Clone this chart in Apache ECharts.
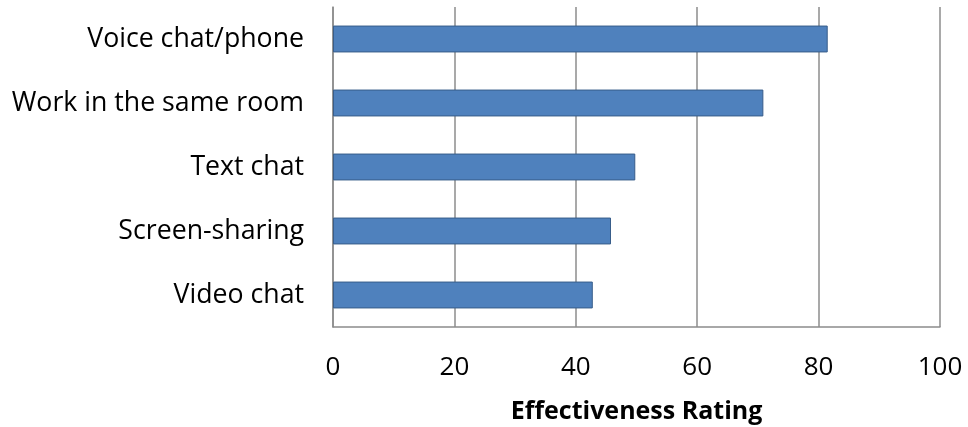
<!DOCTYPE html>
<html><head><meta charset="utf-8">
<script src="https://cdn.jsdelivr.net/npm/echarts@6/dist/echarts.min.js"></script>
<style>html,body{margin:0;padding:0;background:#fff}#c{width:968px;height:427px}</style>
</head><body><div id="c"></div>
<script>
const categories = ["Video chat", "Screen-sharing", "Text chat", "Work in the same room", "Voice chat/phone"];
const ratings = [42.8, 45.8, 49.8, 70.9, 81.5];
const xTicks = [0, 20, 40, 60, 80, 100];
const xAxisTitle = "Effectiveness Rating";

const chart = echarts.init(document.getElementById('c'), null, {renderer: 'canvas'});
const font = "'Open Sans', 'Liberation Sans', sans-serif";
chart.setOption({
  animation: false,
  grid: {left: 333, right: 28, top: 7, bottom: 100, containLabel: false, outerBoundsMode: 'none'},
  xAxis: {
    type: 'value', min: xTicks[0], max: xTicks[xTicks.length-1], interval: 20,
    name: xAxisTitle, nameLocation: 'middle', nameGap: 72,
    nameTextStyle: {fontFamily: font, fontSize: 25, fontWeight: 'bold', color: '#000'},
    axisLine: {show: true, lineStyle: {color: '#8c8c8c', width: 1.5}},
    axisTick: {show: false},
    axisLabel: {fontFamily: font, fontSize: 26, color: '#000', margin: 28},
    splitLine: {show: true, lineStyle: {color: '#8c8c8c', width: 1.5}}
  },
  yAxis: {
    type: 'category', data: categories,
    axisLine: {show: true, lineStyle: {color: '#8c8c8c', width: 1.5}},
    axisTick: {show: false},
    axisLabel: {fontFamily: font, fontSize: 26.7, color: '#000', margin: 29}
  },
  series: [{
    type: 'bar', data: ratings, barCategoryGap: '58%',
    itemStyle: {color: '#4F81BD', borderColor: '#385D8A', borderWidth: 1}
  }]
});
</script></body></html>
